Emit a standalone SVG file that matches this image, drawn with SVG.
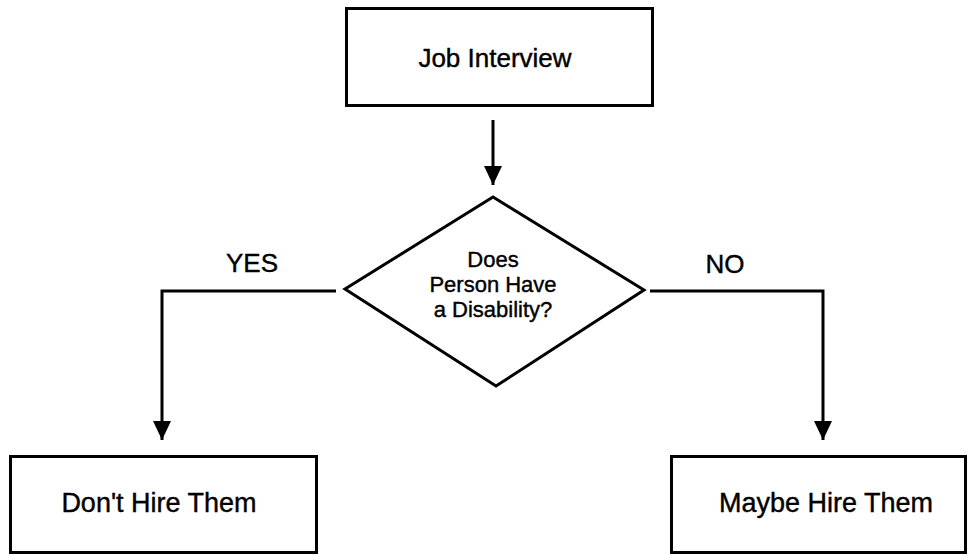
<svg xmlns="http://www.w3.org/2000/svg" width="969" height="555" viewBox="0 0 969 555">
<defs>
<style>
.box{fill:#fff;stroke:#000;stroke-width:3}
.ln{fill:none;stroke:#000;stroke-width:3}
.t{font-family:"Liberation Sans",Arial,sans-serif;font-size:26px;fill:#000;stroke:#000;stroke-width:0.4;text-anchor:middle}
.d{font-size:22px}
.b{font-size:27px}
</style>
<marker id="ah" markerUnits="userSpaceOnUse" markerWidth="20" markerHeight="28" refX="19" refY="9" orient="auto" viewBox="0 0 20 18">
<path d="M0,0 L19,9 L0,18 Z" fill="#000"/>
</marker>
</defs>
<rect width="969" height="555" fill="#fff"/>
<g id="connectors">
<path class="ln" d="M493,120 V185" marker-end="url(#ah)"/>
<path class="ln" d="M336,291 H162 V440" marker-end="url(#ah)"/>
<path class="ln" d="M650,291 H823 V440" marker-end="url(#ah)"/>
<text class="t" x="252" y="272">YES</text>
<text class="t" x="725" y="273">NO</text>
</g>
<g id="job-interview">
<rect class="box" x="346.5" y="8.5" width="306" height="97"/>
<text class="t" x="495" y="67">Job Interview</text>
</g>
<g id="decision">
<polygon class="box" points="493,197 644,290 496,386 345,289"/>
<text class="t d" x="493" y="267">Does</text>
<text class="t d" x="493" y="292">Person Have</text>
<text class="t d" x="493" y="317">a Disability?</text>
</g>
<g id="dont-hire">
<rect class="box" x="10.5" y="456.5" width="306" height="96"/>
<text class="t b" x="159" y="512">Don't Hire Them</text>
</g>
<g id="maybe-hire">
<rect class="box" x="671.5" y="456.5" width="294" height="96"/>
<text class="t b" x="826" y="512">Maybe Hire Them</text>
</g>
</svg>
